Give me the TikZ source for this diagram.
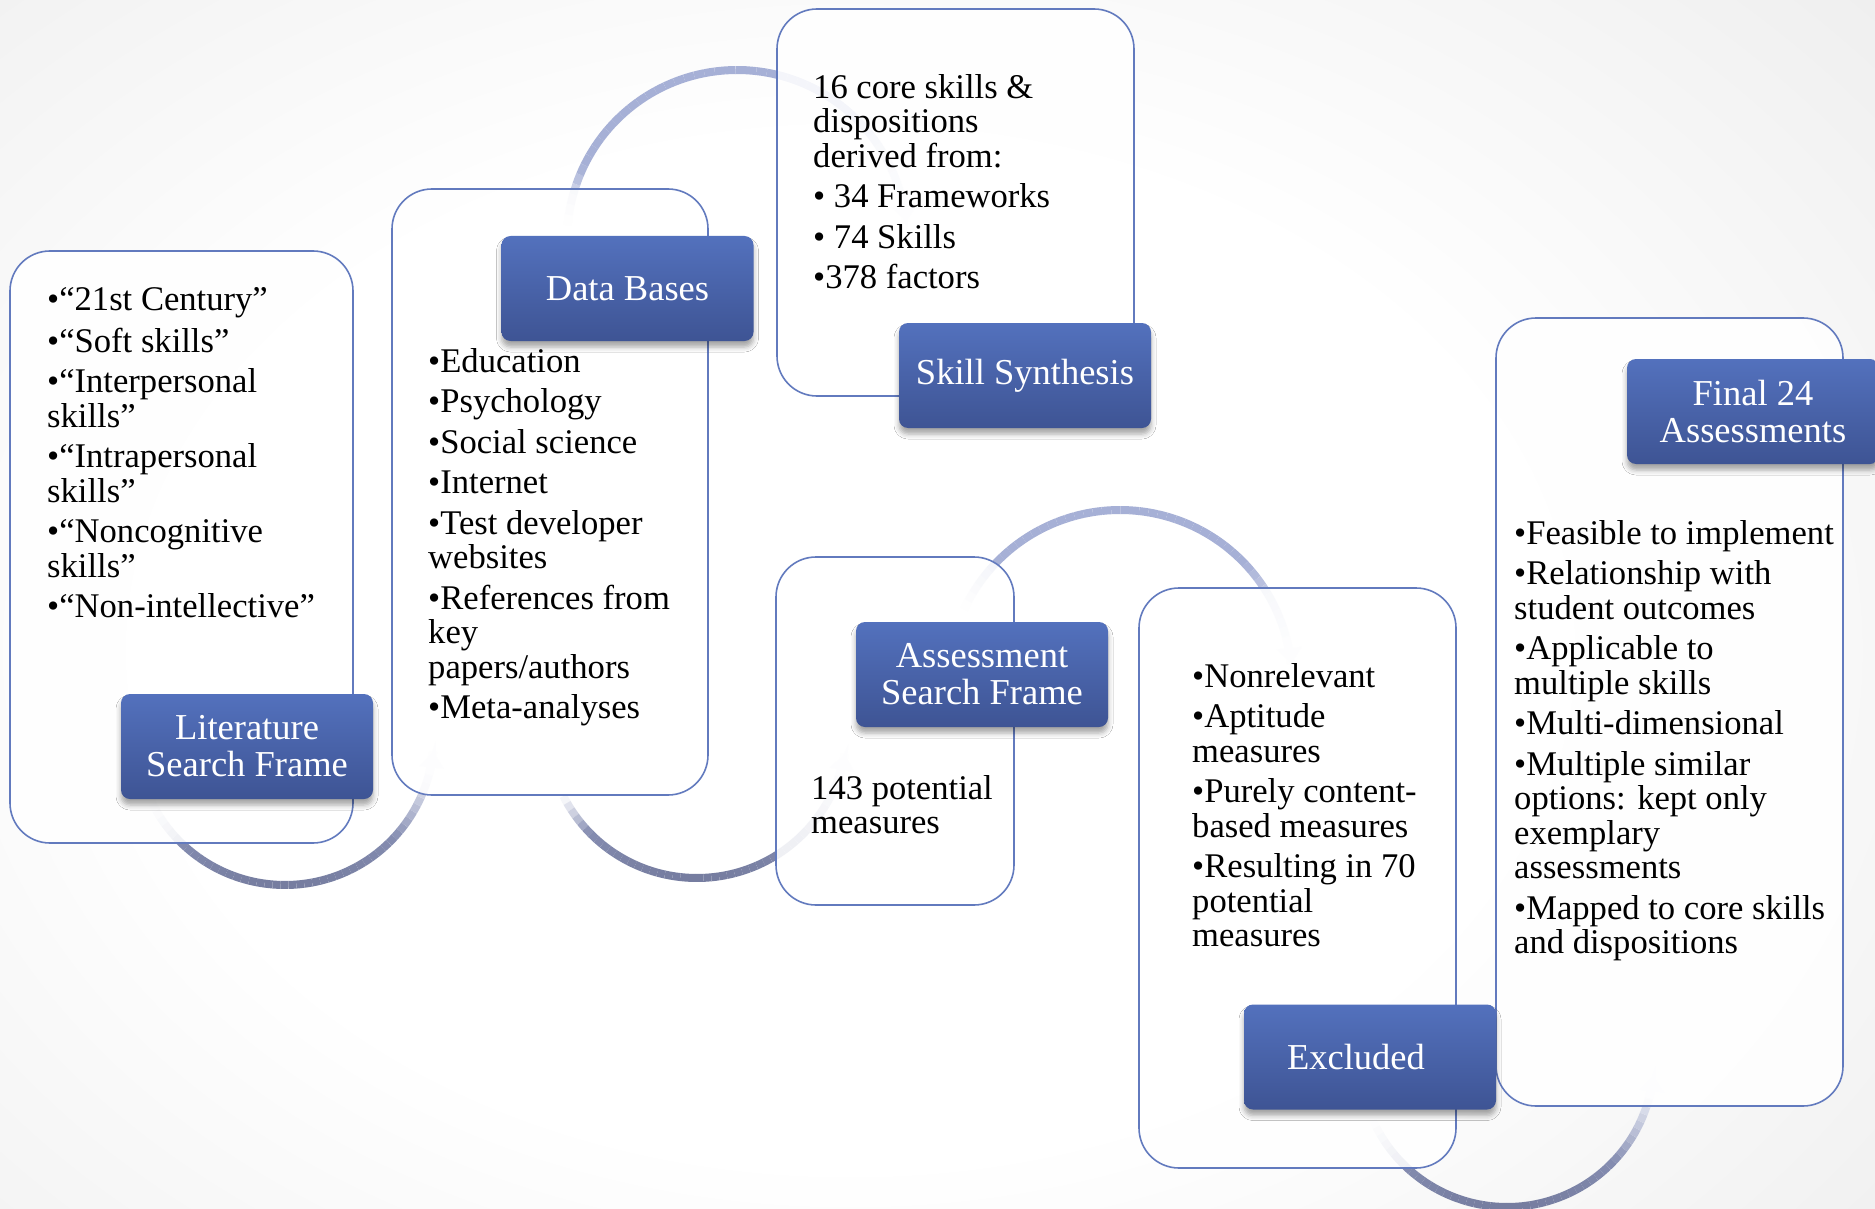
\documentclass[tikz,border=0pt]{standalone}
\usepackage{fontspec}
\setmainfont{Liberation Serif}
\usetikzlibrary{shadows.blur,arrows.meta}
\definecolor{labtop}{RGB}{83,113,189}
\definecolor{labbot}{RGB}{62,84,148}
\definecolor{boxline}{RGB}{98,122,190}
\definecolor{arcup}{RGB}{166,176,214}
\definecolor{arcdown}{RGB}{118,125,160}
\definecolor{bgedge}{RGB}{210,210,210}
\pgfdeclareradialshading{bgshade}{\pgfpoint{0bp}{0bp}}{color(0bp)=(white); color(16bp)=(white); color(58bp)=(bgedge); color(80bp)=(bgedge)}
\newcommand\bodyfont{\fontsize{34.6}{34.5}\selectfont}
\newcommand\labfont{\fontsize{36.5}{37}\selectfont}
% #1 cx, #2 cy, #3 r, #4 start angle, #5 end angle, #6 lower(1)/upper(0)
\newcommand\fadearc[6]{%
  \foreach \i in {0,...,47}{%
    \pgfmathsetmacro\aa{#4+(#5-#4)*\i/48}%
    \pgfmathsetmacro\ab{#4+(#5-#4)*(\i+1)/48}%
    \pgfmathsetmacro\tt{(\i+0.5)/48}%
    \pgfmathsetmacro\ff{100*min(1,\tt/0.12,(1-\tt)/0.25)}%
    \pgfmathsetmacro\ss{#6*100*max(0,sin((\aa+\ab)/2))}%
    \draw[line width=8pt, line cap=butt, color=arcdown!\ss!arcup!\ff!white]
      (#1,#2) ++(\aa:#3) arc[start angle=\aa, end angle=\ab, radius=#3];
  }%
  \pgfmathsetmacro\ae{#5-(#5-#4)*0.06}%
  \draw[line width=8pt, color=arcup!14!white, -{Triangle[width=24pt,length=16pt]}]
    (#1,#2) ++(\ae:#3) arc[start angle=\ae, end angle=#5, radius=#3];
}
\tikzset{
  textbox/.style={draw=boxline, line width=1.6pt, rounded corners=40pt, fill=white, fill opacity=0.88, inner sep=0pt},
  labbox/.style={rounded corners=9pt, top color=labtop, bottom color=labbot, text=white, font=\labfont, align=center, inner sep=0pt, minimum width=252pt, minimum height=105pt, blur shadow={shadow xshift=0pt, shadow yshift=-6pt, shadow blur radius=5pt, shadow opacity=35}},
  bodytext/.style={anchor=north west, inner sep=0pt, align=left, font=\bodyfont, text=black}
}
\begin{document}
\begin{tikzpicture}[x=1pt,y=-1pt]
\useasboundingbox (0,0) rectangle (1875,1209);
\clip (0,0) rectangle (1875,1209);
\shade[shading=bgshade] (-250,-150) rectangle (1950,1450);

% curved arrows (behind the boxes)
\fadearc{285}{736}{149}{153}{6}{1}
\fadearc{737}{240}{170}{185}{354}{0}
\fadearc{697}{728}{150}{153}{10}{1}
\fadearc{1120}{682}{172}{205}{354}{0}
\fadearc{1507}{1060}{147}{156}{6}{1}

% text boxes
\node[textbox, minimum width=343pt, minimum height=592pt] (b1) at (181.5,547) {};
\node[textbox, minimum width=316pt, minimum height=606pt] (b2) at (550,492) {};
\node[textbox, minimum width=357pt, minimum height=387pt] (b3) at (955.5,202.5) {};
\node[textbox, minimum width=238pt, minimum height=348pt] (b4) at (895,731) {};
\node[textbox, minimum width=317pt, minimum height=580pt] (b5) at (1297.5,878) {};
\node[textbox, minimum width=347pt, minimum height=788pt] (b6) at (1669.5,712) {};

% labels
\node[labbox] (l1) at (247,746.5) {Literature\\Search Frame};
\node[labbox] (l2) at (627.5,288.5) {Data Bases};
\node[labbox] (l3) at (1025,375.5) {Skill Synthesis};
\node[labbox] (l4) at (982,674.5) {Assessment\\Search Frame};
\node[labbox] (l5) at (1370,1057) {Excluded\hspace*{28pt}};
\node[labbox] (l6) at (1753,411.5) {Final 24\\Assessments};

% body texts
\node[bodytext] (t1) at (47,286) {\strut•“21st Century”\\[6pt]
•“Soft skills”\\[6pt]
•“Interpersonal\\skills”\\[6pt]
•“Intrapersonal\\skills”\\[6pt]
•“Noncognitive\\skills”\\[6pt]
•“Non-intellective”};

\node[bodytext] (t2) at (428,348) {\strut•Education\\[6pt]
•Psychology\\[6pt]
•Social science\\[6pt]
•Internet\\[6pt]
•Test developer\\websites\\[6pt]
•References from\\key\\papers/authors\\[6pt]
•Meta-analyses};

\node[bodytext] (t3) at (813,74) {\strut 16 core skills \&\\dispositions\\derived from:\\[6pt]
• 34 Frameworks\\[6pt]
• 74 Skills\\[6pt]
•378 factors};

\node[bodytext] (t4) at (811,775) {\strut 143 potential\\measures};

\node[bodytext] (t5) at (1192,663) {\strut•Nonrelevant\\[6pt]
•Aptitude\\measures\\[6pt]
•Purely content-\\based measures\\[6pt]
•Resulting in 70\\potential\\measures};

\node[bodytext] (t6) at (1514,520) {\strut•Feasible to implement\\[6pt]
•Relationship with\\student outcomes\\[6pt]
•Applicable to\\multiple skills\\[6pt]
•Multi-dimensional\\[6pt]
•Multiple similar\\options: kept only\\exemplary\\assessments\\[6pt]
•Mapped to core skills\\and dispositions};
\end{tikzpicture}
\end{document}
